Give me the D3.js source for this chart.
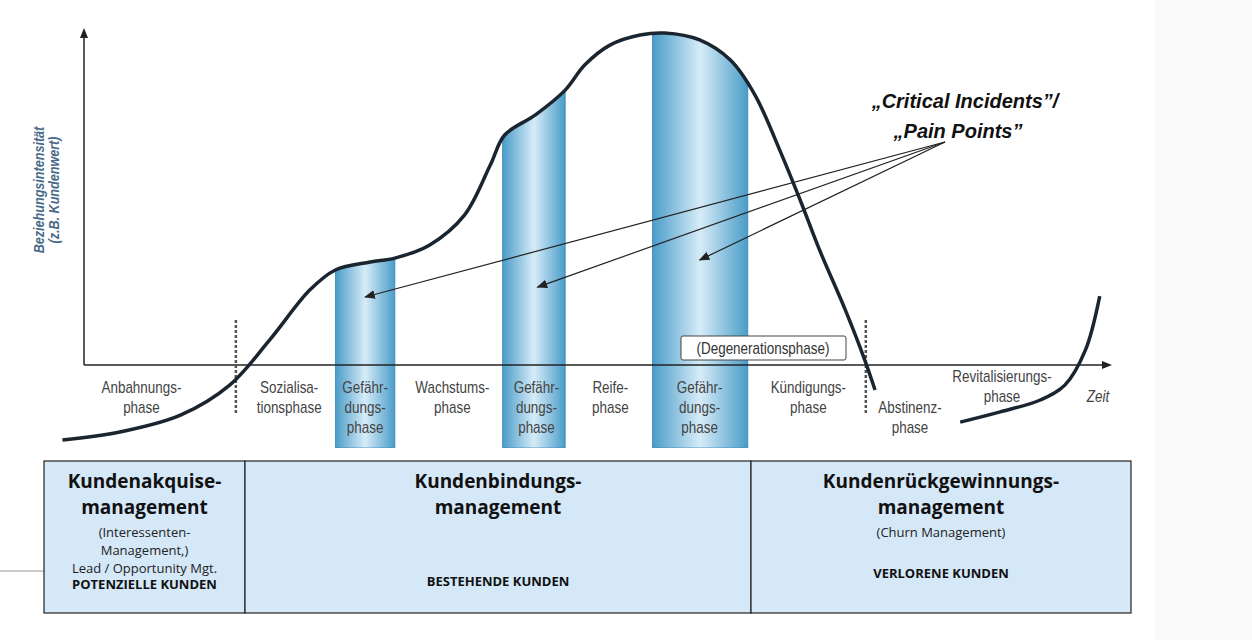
<!DOCTYPE html><html><head><meta charset="utf-8"><script src="https://cdn.jsdelivr.net/npm/d3@7"></script>
<style>body{margin:0;background:#fff}</style></head><body><svg id="c" width="1252" height="640"></svg>
<script>
const curveMain=[[-2.1,-22.7],[3.5,-20.3],[9.4,-15.2],[14.2,-6.1],[18.1,7.6],[22,22.7],[24.5,28.8],[27.9,31.2],[30.3,32.4],[33.7,36.4],[37.1,45.5],[39.6,60.6],[41,69.7],[44,75.8],[46.9,83.3],[48.8,90.9],[51.3,97],[54.2,100],[56.6,100.6],[60,98.5],[63,92.4],[65.4,81.8],[67.8,65.2],[69.8,50],[71.7,34.8],[74.2,16.7],[76.1,1.5],[77.1,-7.6]];
const curveRevit=[[85.4,-17.3],[89.3,-14.2],[93.2,-10.6],[95.6,-6.1],[97.6,4.5],[99,20.9]];
const bands=[[24.5,30.3],[40.8,46.9],[55.4,64.7]];
const phaseLabels=[{t:5.6,l:["Anbahnungs-","phase"]},{t:20,l:["Sozialisa-","tionsphase"]},{t:27.4,l:["Gefähr-","dungs-","phase"]},{t:35.9,l:["Wachstums-","phase"]},{t:44.1,l:["Gefähr-","dungs-","phase"]},{t:51.3,l:["Reife-","phase"]},{t:60,l:["Gefähr-","dungs-","phase"]},{t:70.6,l:["Kündigungs-","phase"]}];
const dividers=[14.8,76.2];
const arrowTargets=[[27.4,20.6],[44.2,23.6],[60,31.8]];
const sections=[{x0:44,x1:245,h:["Kundenakquise-","management"],s:["(Interessenten-","Management,)","Lead / Opportunity Mgt."],k:"POTENZIELLE KUNDEN",ky:589},
{x0:245,x1:751,h:["Kundenbindungs-","management"],s:[],k:"BESTEHENDE KUNDEN",ky:586},
{x0:751,x1:1131,h:["Kundenrückgewinnungs-","management"],s:["(Churn Management)"],k:"VERLORENE KUNDEN",ky:578}];

const svg=d3.select("#c");
const x=d3.scaleLinear().domain([0,100]).range([84,1110]);
const y=d3.scaleLinear().domain([0,100]).range([365,35]);
const F="'Liberation Sans',Arial,sans-serif";
const SX=0.84;
function ntext(px,py,s,opts={}){
 const t=svg.append("g").attr("transform",`scale(${SX},1)`).append("text").attr("x",px/SX).attr("y",py).attr("text-anchor",opts.anchor||"middle").attr("font-family",F).attr("font-size",opts.size||16).attr("fill",opts.fill||"#444").text(s);
 if(opts.italic)t.attr("font-style","italic");return t;}
svg.append("rect").attr("x",1155).attr("y",0).attr("width",97).attr("height",640).attr("fill","#fafafa");
const defs=svg.append("defs");
const g=defs.append("linearGradient").attr("id","bg");
[["0%","#4a9cc8"],["50%","#d6ecf8"],["100%","#4a9cc8"]].forEach(s=>g.append("stop").attr("offset",s[0]).attr("stop-color",s[1]));
const ar=defs.append("marker").attr("id","ah").attr("viewBox","0 0 10 10").attr("refX",9).attr("refY",5).attr("markerWidth",9).attr("markerHeight",9).attr("orient","auto");
ar.append("path").attr("d","M0,1L10,5L0,9z").attr("fill","#222");
const line=d3.line().x(d=>x(d[0])).y(d=>y(d[1])).curve(d3.curveCatmullRom);
const area=d3.area().x(d=>x(d[0])).y1(d=>y(d[1])).y0(448).curve(d3.curveCatmullRom);
defs.append("clipPath").attr("id","under").append("path").attr("d",area(curveMain));
bands.forEach(b=>svg.append("rect").attr("x",x(b[0])).attr("width",x(b[1])-x(b[0])).attr("y",0).attr("height",448).attr("fill","url(#bg)").attr("stroke","#3a8abb").attr("stroke-width",0.8).attr("clip-path","url(#under)"));
svg.append("line").attr("x1",84).attr("y1",365).attr("x2",1105).attr("y2",365).attr("stroke","#222").attr("stroke-width",1.5);
svg.append("path").attr("d","M1112,365l-10,-4v8z").attr("fill","#222");
svg.append("line").attr("x1",84).attr("y1",365).attr("x2",84).attr("y2",36).attr("stroke","#222").attr("stroke-width",1.5);
svg.append("path").attr("d","M84,28l-4,10h8z").attr("fill","#222");
dividers.forEach(d=>svg.append("line").attr("x1",x(d)).attr("x2",x(d)).attr("y1",320).attr("y2",414).attr("stroke","#555").attr("stroke-width",2.5).attr("stroke-dasharray","3,2"));
svg.append("path").attr("d",line(curveMain)).attr("fill","none").attr("stroke","#1a2530").attr("stroke-width",3.5);
svg.append("path").attr("d",line(curveRevit)).attr("fill","none").attr("stroke","#1a2530").attr("stroke-width",3.5);
phaseLabels.forEach(p=>p.l.forEach((s,i)=>ntext(x(p.t),393+i*20,s)));
[["Abstinenz-",413],["phase",433]].forEach(a=>ntext(910,a[1],a[0]));
[["Revitalisierungs-",382],["phase",402]].forEach(a=>ntext(1002,a[1],a[0]));
ntext(1098,402,"Zeit",{italic:true});
svg.append("rect").attr("x",681).attr("y",336).attr("width",165).attr("height",24).attr("fill","#fff").attr("stroke","#444").attr("rx",2);
ntext(763,354,"(Degenerationsphase)",{fill:"#333"});
const yl=svg.append("g").attr("transform","translate(44,190) rotate(-90) scale(0.9,1)");
yl.append("text").attr("text-anchor","middle").attr("font-family",F).attr("font-size",14).attr("font-weight","bold").attr("font-style","italic").attr("fill","#4a6a8a").text("Beziehungsintensität");
yl.append("text").attr("y",15).attr("text-anchor","middle").attr("font-family",F).attr("font-size",14).attr("font-weight","bold").attr("font-style","italic").attr("fill","#4a6a8a").text("(z.B. Kundenwert)");
[["„Critical Incidents”/",108,965],["„Pain Points”",138,958]].forEach(a=>svg.append("text").attr("x",a[2]).attr("y",a[1]).attr("text-anchor","middle").attr("font-family",F).attr("font-size",20).attr("font-weight","bold").attr("font-style","italic").attr("fill","#111").text(a[0]));
arrowTargets.forEach(t=>svg.append("line").attr("x1",945).attr("y1",142).attr("x2",x(t[0])).attr("y2",y(t[1])).attr("stroke","#222").attr("stroke-width",1.2).attr("marker-end","url(#ah)"));
svg.append("line").attr("x1",0).attr("x2",44).attr("y1",571).attr("y2",571).attr("stroke","#999");
sections.forEach(s=>{
 svg.append("rect").attr("x",s.x0).attr("y",461).attr("width",s.x1-s.x0).attr("height",152).attr("fill","#d5e8f8").attr("stroke","#222").attr("stroke-width",1.2);
 const cx=(s.x0+s.x1)/2;
 s.h.forEach((h,i)=>svg.append("text").attr("x",cx).attr("y",488+i*26).attr("text-anchor","middle").attr("font-family","'Open Sans',sans-serif").attr("font-size",19).attr("font-weight","bold").attr("fill","#111").text(h));
 s.s.forEach((h,i)=>svg.append("text").attr("x",cx).attr("y",537+i*18).attr("text-anchor","middle").attr("font-family","'Open Sans',sans-serif").attr("font-size",13).attr("fill","#222").text(h));
 svg.append("text").attr("x",cx).attr("y",s.ky).attr("text-anchor","middle").attr("font-family","'Open Sans',sans-serif").attr("font-size",13).attr("font-weight","bold").attr("fill","#111").text(s.k);
});
</script></body></html>
